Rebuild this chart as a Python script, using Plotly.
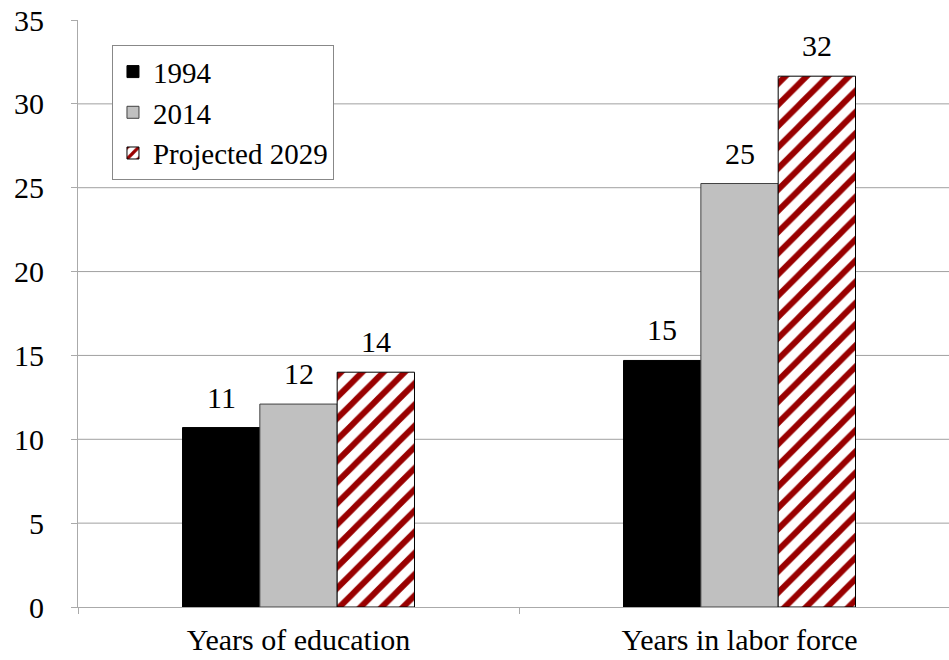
import plotly.graph_objects as go

categories = ["Years of education", "Years in labor force"]
series_names = ["1994", "2014", "Projected 2029"]
values_1994 = [10.7, 14.7]
values_2014 = [12.1, 25.25]
values_2029 = [14.0, 31.65]
y_ticks = [0, 5, 10, 15, 20, 25, 30, 35]

font_family = "Liberation Serif"
FS = 30

W, H = 949, 660
ML, MR, MT, MB = 78, 0, 20, 53
x_range = [-0.5, 1.475]
bargap = 0.474

fig = go.Figure()
fig.add_trace(go.Bar(
    name=series_names[0], x=categories, y=values_1994,
    marker=dict(color="#000000", line=dict(color="#000000", width=1)),
))
fig.add_trace(go.Bar(
    name=series_names[1], x=categories, y=values_2014,
    marker=dict(color="#c0c0c0", line=dict(color="#404040", width=1)),
))
fig.add_trace(go.Bar(
    name=series_names[2], x=categories, y=values_2029,
    marker=dict(color="#ffffff", line=dict(color="#000000", width=1),
                pattern=dict(shape="/", fgcolor="#990000", bgcolor="#ffffff",
                             fgopacity=1, size=15, solidity=0.4)),
))

# value labels above bars
plot_w = W - ML - MR
cat_px = plot_w / (x_range[1] - x_range[0])
bar_px = cat_px * (1 - bargap) / 3
for i, series in enumerate([values_1994, values_2014, values_2029]):
    for cat, v in zip(categories, series):
        fig.add_annotation(x=cat, y=v, xref="x", yref="y", text=f"{v:.0f}",
                           showarrow=False, yanchor="bottom", xanchor="center",
                           xshift=(i - 1) * bar_px, yshift=12,
                           font=dict(family=font_family, size=FS, color="#000000"))

# horizontal gridlines (none at the top tick)
for v in y_ticks:
    if 0 < v < y_ticks[-1]:
        fig.add_shape(type="line", xref="paper", yref="y", x0=0, x1=1, y0=v, y1=v,
                      line=dict(color="#a0a0a0", width=1), layer="below")

fig.update_layout(
    width=W, height=H,
    margin=dict(l=ML, r=MR, t=MT, b=MB, autoexpand=False),
    paper_bgcolor="#ffffff", plot_bgcolor="#ffffff",
    barmode="group", bargap=bargap, bargroupgap=0,
    font=dict(family=font_family, size=FS, color="#000000"),
    showlegend=True,
    legend=dict(x=0.039, y=0.957, xanchor="left", yanchor="top",
                bgcolor="#ffffff", bordercolor="#888888", borderwidth=1,
                font=dict(family=font_family, size=29, color="#000000"),
                tracegroupgap=0),
    xaxis=dict(range=x_range, showline=True, linecolor="#aaaaaa", linewidth=1,
               ticks="outside", tickson="boundaries", ticklen=6, tickcolor="#aaaaaa",
               ticklabelstandoff=6,
               showgrid=False, tickfont=dict(size=FS)),
    yaxis=dict(range=[0, 35], tickvals=y_ticks, showline=True, linecolor="#aaaaaa",
               linewidth=1, ticks="outside", ticklen=6, tickcolor="#aaaaaa",
               ticklabelstandoff=21,
               showgrid=False, zeroline=False,
               tickfont=dict(size=FS)),
)

fig.write_html("out.html", config={"displayModeBar": False},
               post_script="document.body.style.margin='0';")
